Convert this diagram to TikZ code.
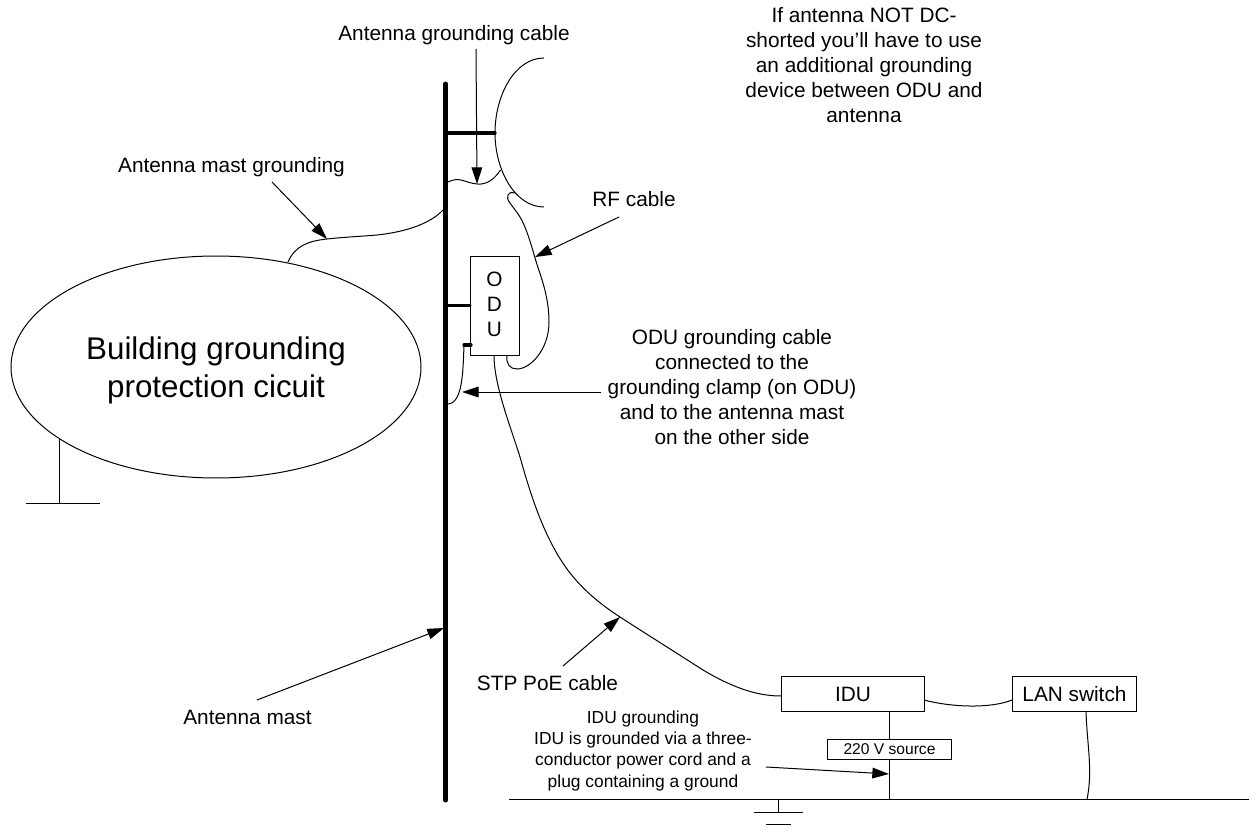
\documentclass[tikz,border=0pt]{standalone}
\usepackage{fontspec}
\setmainfont{Liberation Sans}
\usetikzlibrary{arrows.meta,shapes.geometric}
\tikzset{
 x=0.75pt,y=-0.75pt,
 thinline/.style={draw=black,line width=0.75pt},
 cablew/.style={draw=black,line width=0.75pt},
 mast/.style={draw=black,line width=3.7pt,line cap=round},
 bar/.style={draw=black,line width=2.5pt,line cap=round},
 pointer/.style={draw=black,line width=0.75pt,-{Triangle[length=12.5pt,width=8pt]}},
 boxn/.style={draw=black,line width=0.75pt,fill=white,inner sep=0pt,align=center},
 lbl/.style={inner sep=0pt,align=center,font=\fontsize{15.6}{18.75}\selectfont},
 small/.style={inner sep=0pt,align=center,font=\fontsize{13.05}{16}\selectfont},
}
\begin{document}
\begin{tikzpicture}
\useasboundingbox (0,0) rectangle (1257,834);
% mast
\coordinate (mastT) at (445.5,84);
\coordinate (mastB) at (445.5,800);
\draw[mast] (mastT) -- (mastB);
% antenna
\coordinate (dishT) at (544,58);
\coordinate (dishB) at (544,207);
\coordinate (dishM) at (495,133);
\draw[cablew] (dishT) .. controls (515,58) and (495,95) .. (dishM) .. controls (495,170) and (515,207) .. (dishB);
\coordinate (mastA) at (445.5,133);
\draw[bar] (mastA) -- (dishM);
% antenna ground
\coordinate (ag1) at (448,182);
\coordinate (agm) at (477,184);
\coordinate (ag2) at (500.5,170);
\draw[cablew] (ag1) .. controls (460,176) and (465,183) .. (agm) .. controls (488,185) and (495,178) .. (ag2);
% mast ground
\coordinate (mg1) at (288,262);
\coordinate (mg2) at (327,239);
\coordinate (mg3) at (377,235);
\coordinate (mg4) at (443,210);
\draw[cablew] (mg1) .. controls (295,246) and (308,241) .. (mg2) .. controls (345,237) and (360,236.5) .. (mg3) .. controls (405,232) and (430,224) .. (mg4);
% building
\node[draw=black,line width=0.75pt,ellipse,minimum width=307.5pt,minimum height=166.5pt,inner sep=0pt] (bldg) at (216,367) {};
\node[inner sep=0pt,align=center,font=\fontsize{23.5}{28.5}\selectfont] (bldgt) at (216,370) {Building grounding\\protection cicuit};
\coordinate (g0) at (59,439);
\coordinate (g1) at (59,503);
\coordinate (g2) at (26,503);
\coordinate (g3) at (100,503);
\draw[thinline] (g0) -- (g1);
\draw[thinline] (g2) -- (g3);
% ODU
\node[boxn,minimum width=36.75pt,minimum height=74.25pt,anchor=north west] (odu) at (470,256) {};
\node[lbl] (odut) at (494.5,304) {O\\D\\U};
\coordinate (om) at (445.5,305.7);
\draw[bar] (om) -- (odu.west |- om);
\coordinate (oga) at (464,345);
\coordinate (ogc) at (471,345);
\coordinate (ogb) at (448,404);
\draw[bar] (oga) -- (ogc);
\draw[cablew] (oga) .. controls (463,370) and (463,403) .. (ogb);
% RF cable
\coordinate (rfa) at (507,356);
\coordinate (rf1) at (517,369);
\coordinate (rf2) at (549,322);
\coordinate (rf3) at (535,258);
\coordinate (rf4) at (520,217);
\coordinate (rf5) at (508,195);
\coordinate (rfb) at (515,193);
\draw[cablew] (rfa) .. controls (506,364) and (510,369) .. (rf1) .. controls (530,369) and (549,350) .. (rf2) .. controls (549,295) and (540,275) .. (rf3) .. controls (530,240) and (525,225) .. (rf4) .. controls (513,206) and (505,199) .. (rf5) .. controls (510,192) and (513,192) .. (rfb);
% IDU
\node[boxn,minimum width=107.25pt,minimum height=26.25pt,anchor=north west,font=\fontsize{15.6}{18}\selectfont] (idu) at (781,676) {IDU};
\coordinate (s1) at (494,355);
\coordinate (s2) at (520,457);
\coordinate (s3) at (570,573);
\coordinate (s4) at (620,617);
\coordinate (s5) at (703,670);
\coordinate (s6) at (781,696);
\draw[cablew] (s1) .. controls (494,385) and (510,425) .. (s2) .. controls (532,500) and (546,542) .. (s3) .. controls (585,592) and (603,606) .. (s4) .. controls (640,630) and (675,652) .. (s5) .. controls (730,686) and (755,696) .. (s6);
% LAN
\node[boxn,minimum width=93pt,minimum height=26.25pt,anchor=north west,font=\fontsize{15.6}{18}\selectfont] (lan) at (1012,676) {LAN switch};
\coordinate (il1) at (924,700);
\coordinate (il2) at (1012,700);
\draw[cablew] (il1) .. controls (950,707) and (990,709) .. (il2);
% ground line
\coordinate (gl1) at (509,799.5);
\coordinate (gl2) at (1249,799.5);
\draw[thinline] (gl1) -- (gl2);
\coordinate (gp) at (778,799.5);
\coordinate (gq) at (778,812);
\draw[thinline] (gp) -- (gq);
\coordinate (gr1) at (754,812);
\coordinate (gr2) at (803,812);
\coordinate (gs1) at (766,824);
\coordinate (gs2) at (791,824);
\draw[thinline] (gr1) -- (gr2);
\draw[thinline] (gs1) -- (gs2);
% source
\node[boxn,minimum width=93pt,minimum height=15pt,anchor=north west,font=\fontsize{11.7}{14}\selectfont] (src) at (827,739) {220 V source};
\coordinate (srcG) at (889.5,799.5);
\draw[thinline] (src.north |- idu.south) -- (src.north);
\draw[thinline] (src.south) -- (srcG);
\coordinate (lan1) at (1086,711);
\coordinate (lan2) at (1087,799.5);
\draw[cablew] (lan1) .. controls (1087,745) and (1093,770) .. (lan2);
% labels
\node[lbl] (t1) at (454,35) {Antenna grounding cable};
\node[lbl] (t2) at (231.5,167) {Antenna mast grounding};
\node[lbl] (t3) at (634,199) {RF cable};
\node[lbl] (t4) at (864,65) {If antenna NOT DC-\\shorted you'll have to use\\an additional grounding\\device between ODU and\\antenna};
\node[lbl] (t5) at (732,387) {ODU grounding cable\\connected to the\\grounding clamp (on ODU)\\and to the antenna mast\\on the other side};
\node[lbl] (t6) at (547.5,683) {STP PoE cable};
\node[lbl] (t7) at (247.5,717) {Antenna mast};
\node[small] (t8) at (643,750.5) {IDU grounding\\IDU is grounded via a three-\\conductor power cord and a\\plug containing a ground};
% pointers
\coordinate (p1a) at (476,49);
\draw[pointer] (p1a) -- (agm);
\coordinate (p2a) at (272,182);
\draw[pointer] (p2a) -- (mg2) ;
\coordinate (p3a) at (619,217);
\coordinate (p3b) at (535,257);
\draw[pointer] (p3a) -- (p3b);
\coordinate (p4a) at (600.7,392);
\coordinate (p4b) at (462,392);
\draw[pointer] (p4a) -- (p4b);
\coordinate (p5a) at (257,700);
\coordinate (p5b) at (444,628);
\draw[pointer] (p5a) -- (p5b);
\coordinate (p6a) at (563,666);
\draw[pointer] (p6a) -- (s4);
\coordinate (p7a) at (766,767);
\coordinate (p7b) at (889,774);
\draw[pointer] (p7a) -- (p7b);
\end{tikzpicture}
\end{document}
